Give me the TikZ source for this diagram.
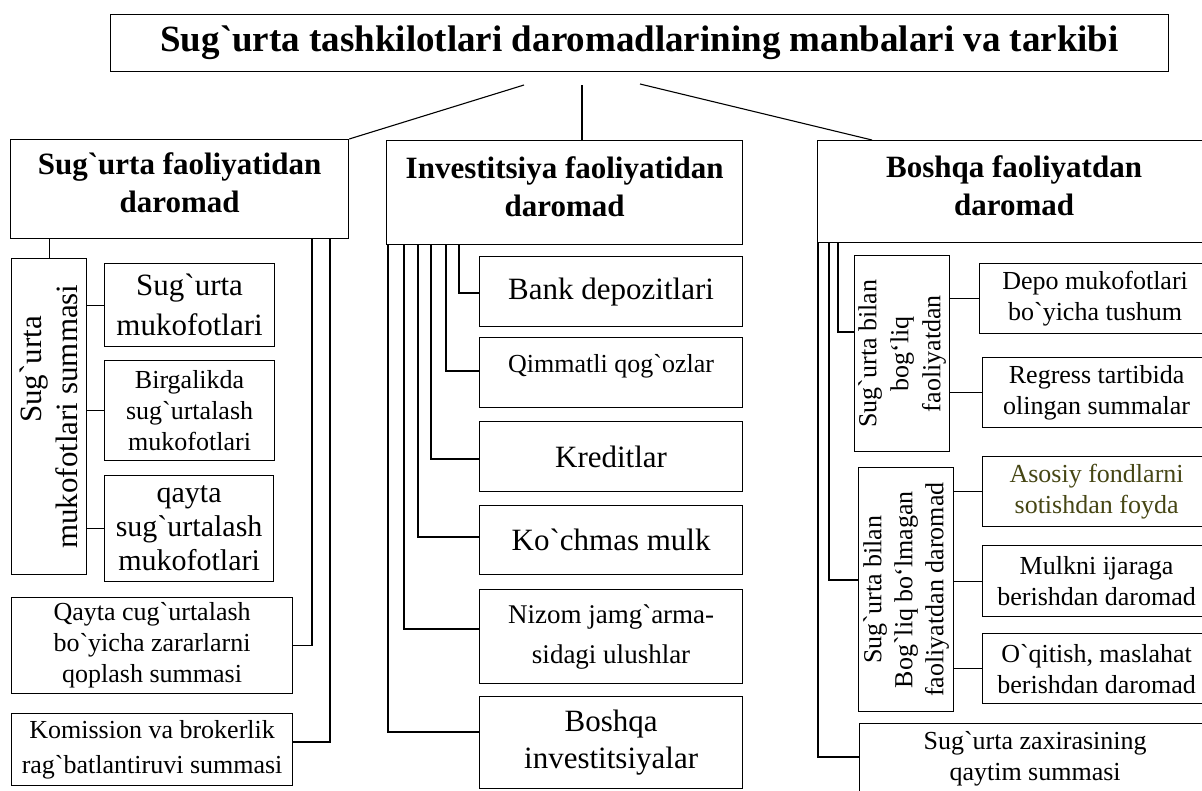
\documentclass[tikz,border=0pt]{standalone}
\usepackage{fontspec}
\setmainfont{Liberation Serif}[Ligatures=TeXOff]
\definecolor{olivetext}{RGB}{70,70,20}
\tikzset{
  box/.style={draw, line width=1.2pt, rectangle, inner sep=0pt, anchor=north west, align=center},
  conn/.style={line width=1.1pt},
  fA/.style={font=\fontsize{31}{36}\selectfont},
  fB/.style={font=\fontsize{26}{31}\selectfont},
  fH/.style={font=\fontsize{31}{38}\selectfont\bfseries},
  fT/.style={font=\fontsize{37}{40}\selectfont\bfseries},
  vtext/.style={rotate=90, align=center, inner sep=0pt},
  htext/.style={align=center, inner sep=0pt, yshift=6pt},
}
\begin{document}
\begin{tikzpicture}[x=1pt,y=-1pt]
\useasboundingbox (0,0) rectangle (1202,790);
\clip (0,0) rectangle (1202,790);

% title and headings
\node[box, fT, minimum width=1058pt, minimum height=57pt] (T) at (110,14) {Sug`urta tashkilotlari daromadlarining manbalari va tarkibi};
\node[box, minimum width=338pt, minimum height=99pt] (L) at (10,139) {};
\node[htext, fH] (Lt) at (L.center) {Sug`urta faoliyatidan\\daromad};
\node[box, minimum width=356pt, minimum height=104pt] (M) at (386,140) {};
\node[htext, fH] (Mt) at (M.center) {Investitsiya faoliyatidan\\daromad};
\node[box, minimum width=393pt, minimum height=102pt] (R) at (817,140) {};
\node[htext, fH] (Rt) at (R.center) {Boshqa faoliyatdan\\daromad};

\coordinate (tl) at (524,85);
\coordinate (tm) at (582,85);
\coordinate (tr) at (640,84);
\coordinate (rj) at (872,140);
\draw[conn] (tl) -- (L.north east);
\draw[conn] (tm) -- (tm |- M.north);
\draw[conn] (tr) -- (rj);

% left column
\node[box, minimum width=75pt, minimum height=316pt] (v1) at (11,258) {};
\node[vtext, fA] (v1t) at (v1.center) {\hspace*{94pt}Sug`urta\\mukofotlari summasi};
\node[box, font=\fontsize{31}{40}\selectfont, minimum width=170pt, minimum height=83pt] (s1) at (104,263) {Sug`urta\\mukofotlari};
\node[box, fB, minimum width=170pt, minimum height=100pt] (s2) at (104,360) {Birgalikda\\sug`urtalash\\mukofotlari};
\node[box, font=\fontsize{30}{34}\selectfont, minimum width=169pt, minimum height=106pt] (s3) at (104,475) {qayta\\sug`urtalash\\mukofotlari};
\node[box, fB, minimum width=281pt, minimum height=96pt] (q) at (11,597) {Qayta cug`urtalash\\bo`yicha zararlarni\\qoplash summasi};
\node[box, font=\fontsize{26}{35}\selectfont, minimum width=281pt, minimum height=72pt] (k) at (11,713) {Komission va brokerlik\\rag`batlantiruvi summasi};

\draw[conn] (v1.north |- L.south) -- (v1.north);
\draw[conn] (v1.east |- s1.west) -- (s1.west);
\draw[conn] (v1.east |- s2.west) -- (s2.west);
\draw[conn] (v1.east |- s3.west) -- (s3.west);
\coordinate (lq) at (312,238);
\coordinate (lk) at (330,238);
\coordinate (kj) at (292,742);
\draw[conn] (q.east) -| (lq);
\draw[conn] (kj) -| (lk);

% middle column
\node[box, fA, minimum width=263pt, minimum height=70pt] (b1) at (479,256) {Bank depozitlari};
\node[box, minimum width=263pt, minimum height=70pt] (b2) at (479,337) {};
\node[htext, fB] (b2t) at (b2.center) {Qimmatli qog`ozlar};
\node[box, fA, minimum width=263pt, minimum height=70pt] (b3) at (479,421) {Kreditlar};
\node[box, fA, minimum width=263pt, minimum height=69pt] (b4) at (479,505) {Ko`chmas mulk};
\node[box, font=\fontsize{27}{40}\selectfont, minimum width=263pt, minimum height=94pt] (b5) at (479,589) {Nizom jamg`arma-\\sidagi ulushlar};
\node[box, font=\fontsize{31}{37}\selectfont, minimum width=263pt, minimum height=92pt] (b6) at (479,696) {Boshqa\\investitsiyalar};

\coordinate (m1) at (459,244); \coordinate (j1) at (479,293);
\coordinate (m2) at (446,244); \coordinate (j2) at (479,371);
\coordinate (m3) at (431,244); \coordinate (j3) at (479,459);
\coordinate (m4) at (418,244); \coordinate (j4) at (479,537);
\coordinate (m5) at (404,244); \coordinate (j5) at (479,629);
\coordinate (m6) at (388,244); \coordinate (j6) at (479,732);
\draw[conn] (m1) |- (j1);
\draw[conn] (m2) |- (j2);
\draw[conn] (m3) |- (j3);
\draw[conn] (m4) |- (j4);
\draw[conn] (m5) |- (j5);
\draw[conn] (m6) |- (j6);

% right column
\node[box, minimum width=95pt, minimum height=196pt] (rv1) at (854,255) {};
\node[vtext, font=\fontsize{26}{32}\selectfont] (rv1t) at (rv1.center) {Sug`urta bilan\\bog‘liq\\faoliyatdan};
\node[box, fB, minimum width=231pt, minimum height=70pt] (d1) at (979,263) {Depo mukofotlari\\bo`yicha tushum};
\node[box, fB, minimum width=228pt, minimum height=70pt] (d2) at (982,357) {Regress tartibida\\olingan summalar};
\node[box, minimum width=95pt, minimum height=244pt] (rv2) at (858,467) {};
\node[vtext, font=\fontsize{26}{31}\selectfont] (rv2t) at (rv2.center) {Sug`urta bilan\\Bog`liq bo‘lmagan\\faoliyatdan daromad};
\node[box, fB, text=olivetext, minimum width=228pt, minimum height=70pt] (d3) at (982,456) {Asosiy fondlarni\\sotishdan foyda};
\node[box, fB, minimum width=228pt, minimum height=71pt] (d4) at (982,545) {Mulkni ijaraga\\berishdan daromad};
\node[box, fB, minimum width=228pt, minimum height=70pt] (d5) at (982,633) {O`qitish, maslahat\\berishdan daromad};
\node[box, fB, minimum width=351pt, minimum height=70pt] (z) at (859,723) {Sug`urta zaxirasining\\qaytim summasi};

\coordinate (r1) at (838,242); \coordinate (rj1) at (854,332);
\coordinate (r2) at (829,242); \coordinate (rj2) at (858,580);
\coordinate (r3) at (818,242); \coordinate (rj3) at (859,757);
\draw[conn] (r1) |- (rj1);
\draw[conn] (r2) |- (rj2);
\draw[conn] (r3) |- (rj3);
\draw[conn] (rv1.east |- d1.west) -- (d1.west);
\draw[conn] (rv1.east |- d2.west) -- (d2.west);
\draw[conn] (rv2.east |- d3.west) -- (d3.west);
\draw[conn] (rv2.east |- d4.west) -- (d4.west);
\draw[conn] (rv2.east |- d5.west) -- (d5.west);
\end{tikzpicture}
\end{document}
